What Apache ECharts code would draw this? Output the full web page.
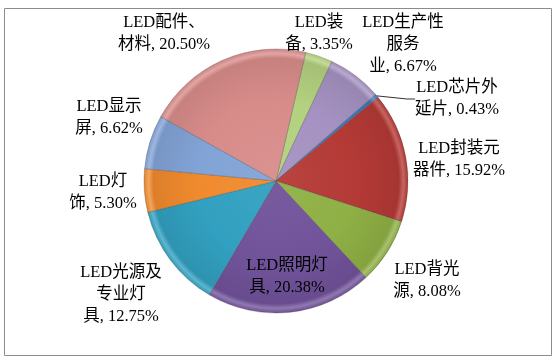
<!DOCTYPE html>
<html>
<head>
<meta charset="utf-8">
<script src="https://cdn.jsdelivr.net/npm/echarts@6/dist/echarts.min.js"></script>
<style>
html,body{margin:0;padding:0;background:#fff;}
#c{width:555px;height:360px;}
</style>
</head>
<body>
<div id="c"></div>
<script>
// ---- data (clockwise from the top) ----
const categories = ['LED装\n备', 'LED生产性\n服务\n业', 'LED芯片外\n延片', 'LED封装元\n器件', 'LED背光\n源', 'LED照明灯\n具', 'LED光源及\n专业灯\n具', 'LED灯\n饰', 'LED显示\n屏', 'LED配件、\n材料'];
const shares = [3.35, 6.67, 0.43, 15.92, 8.08, 20.38, 12.75, 5.30, 6.62, 20.50];

// ---- style / layout ----
const baseColors = ['#b3d17f', '#a592c2', '#3a7cc0', '#b43a36', '#8fb045', '#71539a', '#32a0c0', '#f08a2e', '#82a3d6', '#d88c8a'];
const labelPos = [[319, 34], [403, 45], [457, 99], [459, 160], [427, 281], [287, 277], [121, 295], [103, 193], [109, 118], [164, 34]];
const leaderShown = [false, false, true, false, false, false, false, false, false, false];
const CX = 276, CY = 181, R = 132;

function shade(hex, f) {
  const n = parseInt(hex.slice(1), 16);
  let r = (n >> 16) & 255, g = (n >> 8) & 255, b = n & 255;
  if (f >= 0) { r += (255 - r) * f; g += (255 - g) * f; b += (255 - b) * f; }
  else { r *= 1 + f; g *= 1 + f; b *= 1 + f; }
  return 'rgb(' + Math.round(r) + ',' + Math.round(g) + ',' + Math.round(b) + ')';
}
function grad(c) {
  return {
    type: 'radial', x: CX, y: CY, r: R, global: true,
    colorStops: [
      { offset: 0, color: shade(c, 0.05) },
      { offset: 0.6, color: c },
      { offset: 0.93, color: shade(c, -0.08) },
      { offset: 0.965, color: shade(c, 0.22) },
      { offset: 1, color: shade(c, -0.05) }
    ]
  };
}

const seriesData = categories.map((name, i) => ({
  name: name,
  value: shares[i],
  itemStyle: { color: grad(baseColors[i]) },
  labelLine: { show: leaderShown[i] }
}));

const chart = echarts.init(document.getElementById('c'), null, { renderer: 'canvas' });
chart.setOption({
  backgroundColor: '#ffffff',
  animation: false,
  graphic: [{
    type: 'rect', shape: { x: 4.5, y: 8.5, width: 547, height: 347 },
    style: { fill: 'none', stroke: '#8c8c8c', lineWidth: 1 }, silent: true
  }],
  series: [{
    type: 'pie',
    center: [CX, CY],
    radius: R,
    startAngle: 77,
    clockwise: true,
    avoidLabelOverlap: false,
    data: seriesData,
    itemStyle: { borderColor: 'rgba(60,60,60,0.35)', borderWidth: 0.8 },
    label: {
      show: true,
      formatter: p => p.name + ', ' + p.value.toFixed(2) + '%',
      fontFamily: '"Liberation Serif", "Noto Sans CJK SC", serif',
      fontSize: 16.5,
      lineHeight: 22,
      color: '#000',
      align: 'center'
    },
    labelLine: { show: false, length: 8, length2: 8, lineStyle: { color: '#333', width: 1 } },
    labelLayout: params => ({
      x: labelPos[params.dataIndex][0],
      y: labelPos[params.dataIndex][1],
      align: 'center',
      verticalAlign: 'middle'
    })
  }]
});
</script>
</body>
</html>
